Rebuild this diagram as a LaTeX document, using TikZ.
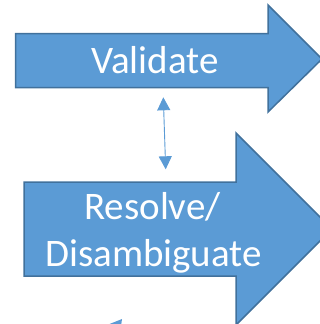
\documentclass[tikz,border=0pt]{standalone}
\usepackage{fontspec}
\setmainfont{Carlito}
\usetikzlibrary{arrows.meta}
\definecolor{ofill}{HTML}{5B9BD5}
\definecolor{oline}{HTML}{41719C}
\tikzset{
  bigarrow/.style={fill=ofill,draw=oline,line width=1.5pt,line join=miter},
  label/.style={text=white,font=\fontsize{39}{47}\selectfont,inner sep=0pt},
  conn/.style={draw=ofill,line width=0.9pt,{Triangle[width=13pt,length=13pt]}-{Triangle[width=13pt,length=13pt]}}
}
\begin{document}
\begin{tikzpicture}[x=1pt,y=-1pt]
\useasboundingbox (0,0) rectangle (320,324);
\begin{scope}
\clip (0,0) rectangle (320,324);
% top arrow
\draw[bigarrow] (15.5,33.5) -- (268,33.5) -- (268,5) -- (322,59) -- (268,112) -- (268,87.5) -- (15.5,87.5) -- cycle;
% second arrow
\draw[bigarrow] (24,182) -- (236,182) -- (236,133) -- (332,229) -- (236,325) -- (236,276) -- (24,276) -- cycle;
% partial arrowhead at bottom
\fill[ofill] (107,325) -- (122,319) -- (121,326) -- cycle;
\end{scope}
\node[label,anchor=base] (val) at (155,73) {Validate};
\node[label,anchor=base] (res) at (152.5,219) {Resolve/};
\node[label,anchor=base] (dis) at (153.5,266) {Disambiguate};
\coordinate (ctop) at (163.3,97.3);
\coordinate (cbot) at (165.7,169.3);
\draw[conn] (ctop) -- (cbot);
\end{tikzpicture}
\end{document}
